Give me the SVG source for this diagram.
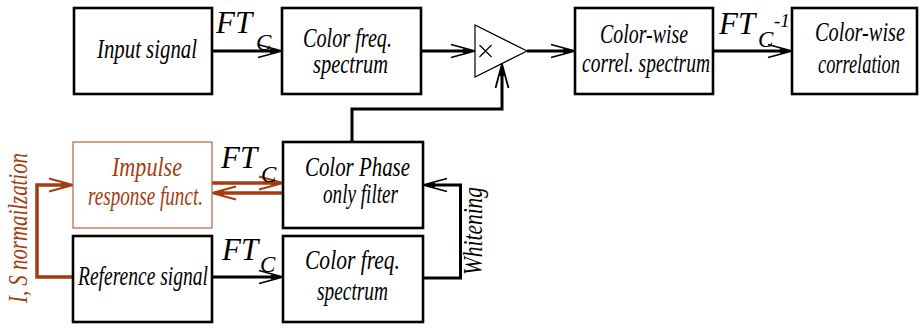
<svg xmlns="http://www.w3.org/2000/svg" width="920" height="329" viewBox="0 0 920 329">
<style>
  .box { fill: #ffffff; stroke: #000000; stroke-width: 2.6; }
  .bbox { fill: #ffffff; stroke: #b8653f; stroke-width: 1.2; }
  text { font-family: 'Liberation Serif', 'Times New Roman', serif; font-style: italic; }
  .lbl { font-size: 27px; fill: #000000; }
  .brown { fill: #a33d10; }
  .ft { font-size: 31px; fill: #000000; }
  .sub { font-size: 23px; fill: #000000; }
  .sup { font-size: 19px; fill: #000000; }
  .con { fill: none; stroke: #000000; stroke-width: 3; }
  .conb { fill: none; stroke: #a33d10; stroke-width: 3.5; }
</style>
<defs>
  <marker id="ah" markerUnits="userSpaceOnUse" viewBox="-27 -8 29 16" markerWidth="29" markerHeight="16" refX="-6" refY="0" orient="auto" overflow="visible">
    <path d="M0,0 L-24,-6.5 M0,0 L-24,6.5" fill="none" stroke="#000000" stroke-width="1.8"/>
    <path d="M0,0 L-12,-2.6 L-12,2.6 Z" fill="#000000"/>
  </marker>
  <marker id="ahb" markerUnits="userSpaceOnUse" viewBox="-27 -8 29 16" markerWidth="29" markerHeight="16" refX="-6" refY="0" orient="auto" overflow="visible">
    <path d="M0,0 L-24,-6.5 M0,0 L-24,6.5" fill="none" stroke="#a33d10" stroke-width="2"/>
    <path d="M0,0 L-12,-2.8 L-12,2.8 Z" fill="#a33d10"/>
  </marker>
</defs>

<g id="connectors">
  <path class="con" d="M212,51 H276" marker-end="url(#ah)"/>
  <path class="con" d="M421,51 H469" marker-end="url(#ah)"/>
  <path class="con" d="M527,51 H569" marker-end="url(#ah)"/>
  <path class="con" d="M713,51 H786" marker-end="url(#ah)"/>
  <path class="con" d="M352,142 V109 H502 V70" marker-end="url(#ah)"/>
  <path class="conb" d="M212,183 H277" marker-end="url(#ahb)"/>
  <path class="conb" d="M283,193 H218" marker-end="url(#ahb)"/>
  <path class="conb" d="M73,277 H37 V185 H67" marker-end="url(#ahb)"/>
  <path class="con" d="M212,277 H277" marker-end="url(#ah)"/>
  <path class="con" d="M423,278 H460.5 V185 H429" marker-end="url(#ah)"/>
</g>

<g id="input-signal">
  <rect class="box" x="74" y="8" width="138" height="86"/>
  <text class="lbl" x="97" y="58" textLength="100" lengthAdjust="spacingAndGlyphs">Input signal</text>
</g>

<g id="color-freq-top">
  <rect class="box" x="282" y="8" width="139" height="86"/>
  <text class="lbl" x="303" y="47" textLength="89" lengthAdjust="spacingAndGlyphs">Color freq.</text>
  <text class="lbl" x="313" y="73" textLength="75" lengthAdjust="spacingAndGlyphs">spectrum</text>
</g>

<g id="multiplier">
  <path d="M475,25 L475,77 L527,51 Z" fill="#ffffff" stroke="#000000" stroke-width="1.2"/>
  <path d="M479.5,45 L491.5,57 M491.5,45 L479.5,57" stroke="#000000" stroke-width="1.2" fill="none"/>
</g>

<g id="correl-spectrum">
  <rect class="box" x="575" y="8" width="138" height="86"/>
  <text class="lbl" x="600" y="43" textLength="88" lengthAdjust="spacingAndGlyphs">Color-wise</text>
  <text class="lbl" x="582" y="72" textLength="128" lengthAdjust="spacingAndGlyphs">correl. spectrum</text>
</g>

<g id="correlation">
  <rect class="box" x="792" y="8" width="125" height="86"/>
  <text class="lbl" x="815" y="41" textLength="90" lengthAdjust="spacingAndGlyphs">Color-wise</text>
  <text class="lbl" x="818" y="73" textLength="82" lengthAdjust="spacingAndGlyphs">correlation</text>
</g>

<g id="impulse-response">
  <rect class="bbox" x="73" y="142" width="139" height="86"/>
  <text class="lbl brown" x="112" y="176" textLength="70" lengthAdjust="spacingAndGlyphs">Impulse</text>
  <text class="lbl brown" x="88" y="205" textLength="115" lengthAdjust="spacingAndGlyphs">response funct.</text>
</g>

<g id="phase-filter">
  <rect class="box" x="283" y="142" width="140" height="86"/>
  <text class="lbl" x="305" y="176" textLength="105" lengthAdjust="spacingAndGlyphs">Color Phase</text>
  <text class="lbl" x="323" y="203" textLength="75" lengthAdjust="spacingAndGlyphs">only filter</text>
</g>

<g id="reference-signal">
  <rect class="box" x="73" y="236" width="139" height="86"/>
  <text class="lbl" x="78" y="285" textLength="130" lengthAdjust="spacingAndGlyphs">Reference signal</text>
</g>

<g id="color-freq-bottom">
  <rect class="box" x="283" y="236" width="140" height="86"/>
  <text class="lbl" x="305" y="269" textLength="95" lengthAdjust="spacingAndGlyphs">Color  freq.</text>
  <text class="lbl" x="317" y="300" textLength="71" lengthAdjust="spacingAndGlyphs">spectrum</text>
</g>

<g id="labels">
  <text class="ft" x="216" y="33">FT</text>
  <text class="sub" x="256" y="50">C</text>
  <text class="ft" x="719" y="34">FT</text>
  <text class="sub" x="758" y="47">C</text>
  <text class="sup" x="774" y="27">-1</text>
  <text class="ft brown" x="221" y="168">FT</text>
  <text class="sub brown" x="261" y="182">C</text>
  <text class="ft" x="222" y="260">FT</text>
  <text class="sub" x="260" y="272">C</text>
  <text class="lbl brown" x="27" y="228" text-anchor="middle" textLength="150" lengthAdjust="spacingAndGlyphs" transform="rotate(-90 27 228)">I, S normailzation</text>
  <text class="lbl" x="482" y="231" text-anchor="middle" textLength="88" lengthAdjust="spacingAndGlyphs" transform="rotate(-90 482 231)">Whitening</text>
</g>
</svg>
